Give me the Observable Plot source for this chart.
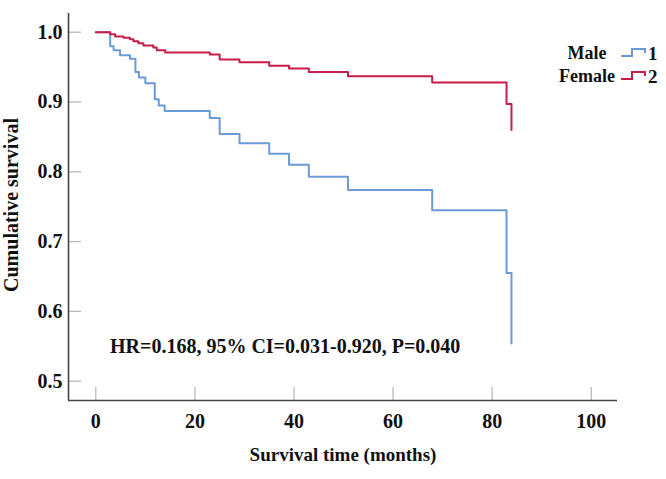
<!DOCTYPE html>
<html>
<head>
<meta charset="utf-8">
<script src="https://cdn.jsdelivr.net/npm/d3@7"></script>
<script src="https://cdn.jsdelivr.net/npm/@observablehq/plot@0.6"></script>
<style>
  html, body { margin: 0; padding: 0; background: #fff; }
  #wrap { position: relative; width: 666px; height: 479px; }
  #overlay { position: absolute; left: 0; top: 0; pointer-events: none; }
  text { font-family: "Liberation Serif", "Times New Roman", serif; font-weight: bold; }
</style>
</head>
<body>
<div id="wrap"></div>
<script>
// ---- data ----
const maleTime = [0, 2.9, 3.6, 4.9, 6.9, 8.0, 8.7, 10.0, 11.9, 12.7, 13.9, 23.0, 25.0, 29.0, 35.0, 39.0, 43.0, 50.9, 67.9, 82.9, 83.9];
const maleSurv = [1.0, 0.980, 0.974, 0.967, 0.962, 0.943, 0.935, 0.927, 0.904, 0.895, 0.887, 0.877, 0.854, 0.841, 0.826, 0.810, 0.793, 0.774, 0.745, 0.655, 0.554];
const femaleTime = [0, 2.9, 3.9, 5.6, 6.9, 7.6, 8.6, 9.6, 11.6, 12.3, 14.0, 23.0, 25.0, 29.0, 35.0, 39.0, 43.0, 50.9, 67.9, 82.9, 83.9];
const femaleSurv = [1.0, 0.997, 0.994, 0.992, 0.990, 0.987, 0.984, 0.981, 0.978, 0.974, 0.971, 0.968, 0.961, 0.957, 0.952, 0.948, 0.943, 0.937, 0.928, 0.897, 0.860];
const xTicks = [0, 20, 40, 60, 80, 100];
const yTicks = [0.5, 0.6, 0.7, 0.8, 0.9, 1.0];
const groupNames = ["Male", "Female"];
const groupCodes = ["1", "2"];
const annotation = "HR=0.168, 95% CI=0.031-0.920, P=0.040";
const xTitle = "Survival time (months)";
const yTitle = "Cumulative survival";

const xDomain = [-5.51, 105.3];
const yDomain = [0.4723, 1.0268];

const blue = "#6b9bd6";
const red = "#c81d4a";

const male = maleTime.map((t, i) => ({t, s: maleSurv[i]}));
const female = femaleTime.map((t, i) => ({t, s: femaleSurv[i]}));

const font = {fontFamily: "Liberation Serif", fontWeight: "bold", fontSize: 20, fill: "#111"};
const tickLen = 13;

const chart = Plot.plot({
  width: 666,
  height: 479,
  marginLeft: 68,
  marginRight: 49,
  marginTop: 13,
  marginBottom: 79,
  style: {fontFamily: "Liberation Serif", background: "#fff"},
  x: {domain: xDomain},
  y: {domain: yDomain},
  marks: [
    // inward tick marks (drawn outward, then shifted inside the frame)
    Plot.axisX({ticks: xTicks, tickSize: tickLen, dy: -tickLen, tickFormat: () => "", stroke: "#b8b8b8", strokeWidth: 1.3, label: null}),
    Plot.axisY({ticks: yTicks, tickSize: tickLen, dx: tickLen, tickFormat: () => "", stroke: "#b8b8b8", strokeWidth: 1.3, label: null}),
    // tick labels
    Plot.axisX({ticks: xTicks, tickSize: 0, tickPadding: 13, tickFormat: d3.format("d"), label: null, ...font}),
    Plot.axisY({ticks: yTicks, tickSize: 0, tickPadding: 6, tickFormat: d3.format(".1f"), label: null, ...font}),
    // axis lines
    Plot.ruleX([xDomain[0]], {stroke: "#444", strokeWidth: 1.6}),
    Plot.ruleY([yDomain[0]], {stroke: "#444", strokeWidth: 1.6}),
    // survival curves
    Plot.line(male, {x: "t", y: "s", curve: "step-after", stroke: blue, strokeWidth: 2}),
    Plot.line(female, {x: "t", y: "s", curve: "step-after", stroke: red, strokeWidth: 2})
  ]
});

const wrap = document.getElementById("wrap");
wrap.appendChild(chart);

// overlay: titles, annotation, legend
const ns = "http://www.w3.org/2000/svg";
const ov = document.createElementNS(ns, "svg");
ov.setAttribute("id", "overlay");
ov.setAttribute("width", 666);
ov.setAttribute("height", 479);
function txt(str, x, y, size, anchor, rot) {
  const t = document.createElementNS(ns, "text");
  t.textContent = str;
  t.setAttribute("x", x);
  t.setAttribute("y", y);
  t.setAttribute("font-size", size);
  t.setAttribute("text-anchor", anchor);
  t.setAttribute("fill", "#111");
  if (rot) t.setAttribute("transform", `rotate(${rot},${x},${y})`);
  ov.appendChild(t);
  return t;
}
function path(d, color) {
  const p = document.createElementNS(ns, "path");
  p.setAttribute("d", d);
  p.setAttribute("fill", "none");
  p.setAttribute("stroke", color);
  p.setAttribute("stroke-width", 2);
  ov.appendChild(p);
}
txt(xTitle, 343, 461, 19, "middle");
txt(yTitle, 18, 205, 20, "middle", -90);
txt(annotation, 110, 353, 20, "start");

const legColors = [blue, red];
const legY = [59, 82];
groupNames.forEach((name, i) => {
  const y = legY[i];
  txt(name, 587, y, 18, "middle");
  path(`M621,${y - 3} H632 V${y - 10} H645 V${y - 6}`, legColors[i]);
  txt(groupCodes[i], 648, y + 1, 19, "start");
});
wrap.appendChild(ov);
</script>
</body>
</html>
